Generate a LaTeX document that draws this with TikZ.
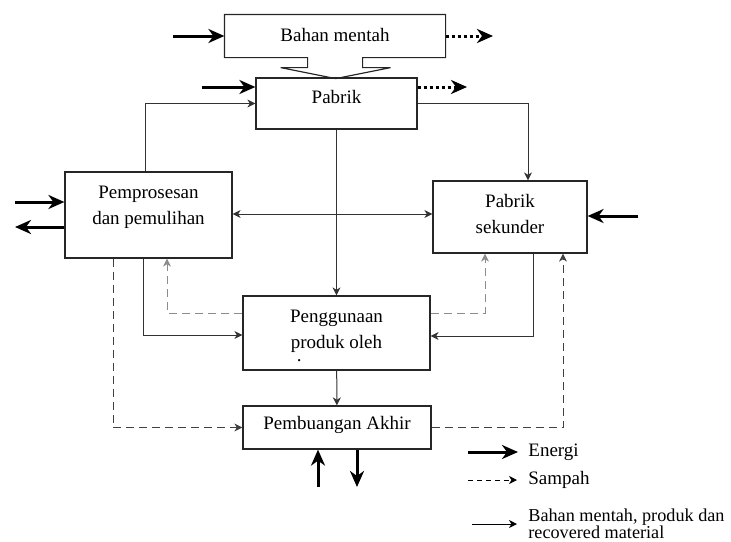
\documentclass[tikz,border=0pt]{standalone}
\usepackage{fontspec}
\setmainfont{Liberation Serif}
\usetikzlibrary{arrows.meta, calc}

\begin{document}
\begin{tikzpicture}[
    x=0.5pt, y=-0.5pt,
    every node/.style={font=\fontsize{9.5}{13}\selectfont},
    % Estilos de nodos y flechas
    box/.style={rectangle, draw=black!85, line width=0.6pt, fill=white, align=center, inner sep=0pt},
    arrow/.style={draw=black!80, line width=0.5pt, -{Stealth[length=4pt, width=4pt, inset=1.2pt]}},
    twoway/.style={draw=black!80, line width=0.5pt, {Stealth[length=4pt, width=4pt, inset=1.2pt]}-{Stealth[length=4pt, width=4pt, inset=1.2pt]}},
    sampah/.style={arrow, dash pattern=on 4pt off 2.5pt},
    energi/.style={line width=1.5pt, -{Stealth[length=8pt, width=7pt, inset=2.5pt]}},
    keluar/.style={energi, dash pattern=on 1.5pt off 1.5pt}
]
    \useasboundingbox (0,0) rectangle (731,541);

    % --- Nodos ---
    \node (bahan) [box, draw=none, fill=none, minimum width=110pt, minimum height=21pt, text depth=1.5pt] at (335,36) {Bahan mentah};
    \node (pabrik) [box, minimum width=80.5pt, minimum height=25.5pt, text depth=6.5pt] at (336.5,103.5) {Pabrik};
    \node (proses) [box, minimum width=83.5pt, minimum height=43pt, text depth=10pt] at (148.5,215) {Pemprosesan\\dan pemulihan};
    \node (sekunder) [box, minimum width=77pt, minimum height=36pt, text depth=3.3pt] at (510,217) {Pabrik\\sekunder};
    \node (guna) [box, minimum width=93.5pt, minimum height=37pt, text depth=4pt] at (336.5,333) {Penggunaan\\\rlap{\hspace*{3pt}\raisebox{-6.5pt}{.}}produk oleh};
    \node (buang) [box, minimum width=94pt, minimum height=21.5pt, text depth=5pt] at (337,427.5) {Pembuangan Akhir};

    % --- Corong bahan mentah ---
    \draw [draw=black!85, line width=0.6pt] (bahan.south west) -- (bahan.north west) -- (bahan.north east) -- (bahan.south east)
        -- ++(-83,0) -- ++(0,10) -- ++(28,0) -- ++(-55,11) -- ++(-55,-11) -- ++(27,0) -- ++(0,-10) -- cycle;

    % --- Aliran bahan ---
    \draw [arrow] ([xshift=-1.75pt]proses.north) |- (pabrik.west);
    \draw [arrow] (pabrik.east) -| ([xshift=9pt]sekunder.north);
    \draw [arrow] (pabrik) -- (guna);
    \draw [twoway] ([yshift=0.5pt]proses.east) -- ([yshift=0.5pt]proses.east -| sekunder.west);
    \draw [arrow] ([xshift=-2.75pt]proses.south) |- ([yshift=-1pt]guna.west);
    \draw [arrow] ([xshift=11.5pt]sekunder.south) |- ([yshift=-1.5pt]guna.east);
    \draw [arrow] (guna) -- (buang);

    % --- Sampah ---
    \draw [sampah, draw=black!45] ([yshift=10pt]guna.west) -| ([xshift=9.25pt]proses.south);
    \draw [sampah, draw=black!45] ([yshift=10pt]guna.east) -| ([xshift=-12.5pt]sekunder.south);
    \draw [sampah, draw=black!75] ([xshift=-17.75pt]proses.south) |- (buang.west);
    \draw [sampah, draw=black!75] (buang.east) -| ([xshift=26.5pt]sekunder.south);

    % --- Energi ---
    \coordinate (eBahan) at (173,36);
    \coordinate (oBahan) at (493,36);
    \coordinate (ePabrik) at (202,87);
    \coordinate (oPabrik) at (467,87);
    \coordinate (eProsesIn) at (15,202);
    \coordinate (eProsesOut) at (15,227);
    \coordinate (eSekunder) at (638,216);
    \coordinate (eBuangIn) at (318,487);
    \coordinate (eBuangOut) at (357,487);
    \draw [energi] (eBahan) -- (bahan.west);
    \draw [keluar] (bahan.east) -- (oBahan);
    \draw [energi] (ePabrik) -- (ePabrik -| pabrik.west);
    \draw [keluar] (oPabrik -| pabrik.east) -- (oPabrik);
    \draw [energi] (eProsesIn) -- (eProsesIn -| proses.west);
    \draw [energi] (eProsesOut -| proses.west) -- (eProsesOut);
    \draw [energi] (eSekunder) -- (eSekunder -| sekunder.east);
    \draw [energi] (eBuangIn) -- (eBuangIn |- buang.south);
    \draw [energi] (eBuangOut |- buang.south) -- (eBuangOut);

    % --- Keterangan ---
    \coordinate (lEnergi) at (468,452);
    \coordinate (lSampah) at (468,480);
    \coordinate (lBahan) at (472,524);
    \node (tEnergi) [anchor=west, inner sep=0pt] at (528,452) {Energi};
    \node (tSampah) [anchor=west, inner sep=0pt] at (528,480) {Sampah};
    \node (tBahan) [anchor=west, inner sep=0pt, align=left, font=\fontsize{9.1}{8.5}\selectfont] at (528,524) {Bahan mentah, produk dan\\recovered material};
    \draw [energi] (lEnergi) -- ([xshift=-5pt]tEnergi.west);
    \draw [sampah, draw=black, dash pattern=on 2.5pt off 2pt] (lSampah) -- ([xshift=-5.5pt]tSampah.west);
    \draw [arrow, draw=black] (lBahan) -- ([xshift=-5.5pt]tBahan.west);

\end{tikzpicture}
\end{document}
